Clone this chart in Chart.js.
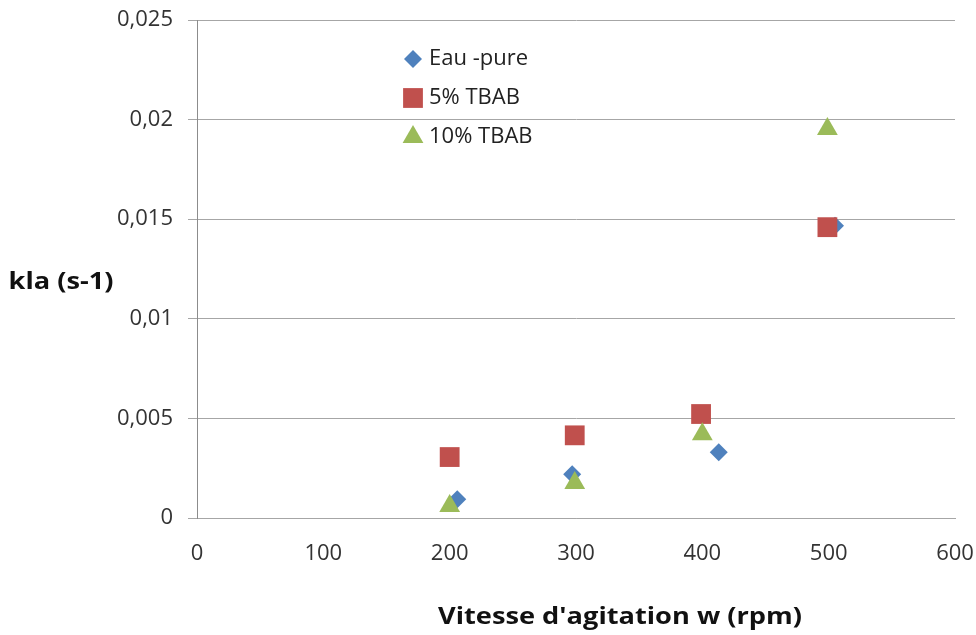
<!DOCTYPE html>
<html>
<head>
<meta charset="utf-8">
<script src="https://cdn.jsdelivr.net/npm/chart.js@4/dist/chart.umd.min.js"></script>
<style>
  body { margin: 0; background: #fff; }
  canvas { display: block; }
</style>
</head>
<body>
<canvas id="myChart" width="976" height="635"></canvas>
<script>
// data
var seriesNames = ['Eau -pure', '5% TBAB', '10% TBAB'];
var rpmEau = [206, 297, 413, 505];
var klaEau = [0.00094, 0.0022, 0.0033, 0.01467];
var rpm5 = [200, 299, 399, 499];
var kla5 = [0.00306, 0.00415, 0.00522, 0.0146];
var rpm10 = [200, 299, 400, 499];
var kla10 = [0.0006, 0.00176, 0.0042, 0.01953];
var xTicks = [0, 100, 200, 300, 400, 500, 600];
var yTicks = [0, 0.005, 0.01, 0.015, 0.02, 0.025];

var FONT = '"Open Sans", "DejaVu Sans", sans-serif';

function pts(xs, ys) {
    return xs.map(function (x, i) { return {x: x, y: ys[i]}; });
}

// text a bit wider than the font gives, like the original export
function wideText(ctx, text, cx, cy, w) {
    var m = ctx.measureText(text).width;
    ctx.save();
    ctx.translate(cx, cy);
    ctx.scale(w / m, 1);
    ctx.fillText(text, 0, 0);
    ctx.restore();
}

// legend + axis titles drawn at Excel-like spots
var extras = {
    id: 'extras',
    afterDraw: function (chart) {
        var ctx = chart.ctx;
        var area = chart.chartArea;
        ctx.save();
        chart.data.datasets.forEach(function (ds, i) {
            var x = area.left + 216;
            var y = area.top + 39 + i * 39;
            ctx.fillStyle = ds.backgroundColor;
            Chart.helpers.drawPoint(ctx, {pointStyle: ds.pointStyle, radius: ds.pointRadius, rotation: 0, borderWidth: 0}, x, y);
            ctx.fillStyle = '#222';
            ctx.font = '22px ' + FONT;
            ctx.textAlign = 'left';
            ctx.textBaseline = 'middle';
            ctx.fillText(ds.label, x + 16, y);
        });

        ctx.fillStyle = '#111';
        ctx.font = 'bold 24px ' + FONT;
        ctx.textAlign = 'center';
        ctx.textBaseline = 'middle';
        wideText(ctx, 'kla (s-1)', 61, area.top + 262, 105);
        wideText(ctx, "Vitesse d'agitation w (rpm)", area.left + 423, area.bottom + 99, 364);
        ctx.restore();
    }
};

var ctx = document.getElementById('myChart').getContext('2d');

var myChart = new Chart(ctx, {
    type: 'scatter',
    data: {
        datasets: [{
            label: seriesNames[0],
            data: pts(rpmEau, klaEau),
            pointStyle: 'rectRot',
            pointRadius: 9,
            backgroundColor: '#4f81bd',
            borderColor: '#4f81bd',
            borderWidth: 0,
            order: 3
        }, {
            label: seriesNames[1],
            data: pts(rpm5, kla5),
            pointStyle: 'rect',
            pointRadius: 14,
            backgroundColor: '#c0504d',
            borderColor: '#c0504d',
            borderWidth: 0,
            order: 2
        }, {
            label: seriesNames[2],
            data: pts(rpm10, kla10),
            pointStyle: 'triangle',
            pointRadius: 12,
            backgroundColor: '#9bbb59',
            borderColor: '#9bbb59',
            borderWidth: 0,
            order: 1
        }]
    },
    options: {
        responsive: false,
        animation: false,
        layout: {
            padding: {left: 0, top: 20, right: 21, bottom: 0}
        },
        plugins: {
            legend: {display: false},
            tooltip: {enabled: false}
        },
        scales: {
            x: {
                type: 'linear',
                min: xTicks[0],
                max: xTicks[xTicks.length - 1],
                afterBuildTicks: function (scale) {
                    scale.ticks = xTicks.map(function (v) { return {value: v}; });
                },
                afterFit: function (scale) {
                    scale.height = 117;
                    scale.paddingLeft = 0;
                    scale.paddingRight = 0;
                },
                grid: {display: false, drawTicks: false},
                border: {display: true, color: '#a6a6a6', width: 1},
                ticks: {
                    padding: 23,
                    color: '#333',
                    font: {family: FONT, size: 22}
                }
            },
            y: {
                type: 'linear',
                min: yTicks[0],
                max: yTicks[yTicks.length - 1],
                afterBuildTicks: function (scale) {
                    scale.ticks = yTicks.map(function (v) { return {value: v}; });
                },
                afterFit: function (scale) {
                    scale.width = 197;
                    scale.paddingTop = 0;
                    scale.paddingBottom = 0;
                },
                grid: {color: '#a6a6a6', lineWidth: 1, drawTicks: true, tickLength: 9},
                border: {display: true, color: '#8c8c8c', width: 1},
                ticks: {
                    padding: 15,
                    color: '#333',
                    font: {family: FONT, size: 22},
                    callback: function (v) {
                        return String(+v.toFixed(3)).replace('.', ',');
                    }
                }
            }
        }
    },
    plugins: [extras]
});
</script>
</body>
</html>
